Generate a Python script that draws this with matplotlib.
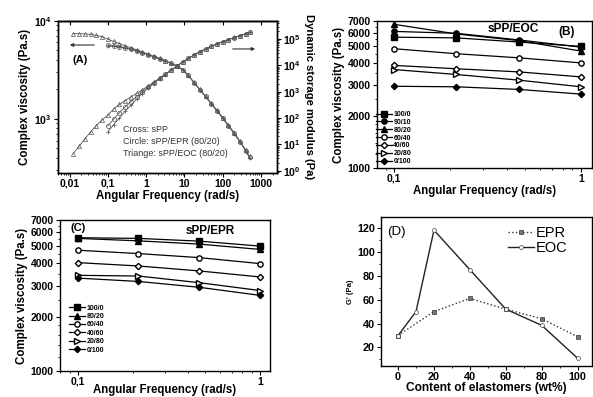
import math
import matplotlib
matplotlib.use('Agg')
import matplotlib.pyplot as plt
from matplotlib.ticker import FixedLocator, FuncFormatter, NullFormatter, LogLocator, MultipleLocator

plt.rcParams['font.family'] = ['Liberation Sans', 'DejaVu Sans']
plt.rcParams['font.weight'] = 'bold'
plt.rcParams['axes.labelweight'] = 'bold'
plt.rcParams['mathtext.fontset'] = 'custom'
plt.rcParams['mathtext.rm'] = 'Liberation Sans:bold'
plt.rcParams['mathtext.bf'] = 'Liberation Sans:bold'
plt.rcParams['axes.linewidth'] = 1.0
plt.rcParams['xtick.major.size'] = 3
plt.rcParams['ytick.major.size'] = 3
plt.rcParams['xtick.minor.size'] = 1.6
plt.rcParams['ytick.minor.size'] = 1.6

# ---- panel A: frequency sweeps (80/20 blends vs neat sPP)
freq_eoc = [0.0125, 0.0178, 0.025, 0.0355, 0.05, 0.0708, 0.1, 0.141, 0.2, 0.282,
            0.4, 0.562, 0.794, 1.12, 1.58, 2.24, 3.16, 4.47, 6.31, 8.91,
            12.6, 17.8, 25.1, 35.5, 50.1, 70.8, 100, 141, 200, 282, 398, 500]
freq_blend = freq_eoc[6:]

eta_eoc = [7400, 7380, 7330, 7250, 7100, 6850, 6500, 6150, 5850, 5550,
           5300, 5050, 4800, 4570, 4350, 4130, 3920, 3700, 3480, 3180,
           2780, 2350, 2000, 1700, 1440, 1220, 1030, 860, 720, 590, 480, 415]
eta_epr = [5650, 5560, 5450, 5310, 5150, 4960, 4740, 4520, 4310, 4100,
           3890, 3680, 3460, 3170, 2770, 2340, 1990, 1690, 1430, 1210,
           1020, 850, 710, 585, 475, 405]
eta_spp = [5550, 5480, 5390, 5260, 5110, 4930, 4720, 4500, 4290, 4080,
           3870, 3660, 3440, 3150, 2760, 2330, 1980, 1680, 1420, 1200,
           1010, 845, 705, 580, 470, 400]

gp_eoc = [4.5, 8.5, 16, 30, 52, 85, 130, 220, 330, 460,
          640, 870, 1180, 1650, 2300, 3300, 4700, 6700, 9600, 13500,
          18500, 25000, 33000, 42000, 53000, 66000, 80000, 96000, 115000, 135000,
          160000, 180000]
gp_epr = [50, 90, 160, 260, 420, 650, 1000, 1500, 2200, 3200,
          4600, 6600, 9500, 13400, 18400, 24900, 32900, 41900, 52900, 65900,
          79800, 95800, 114800, 134700, 159500, 179500]
gp_spp = [30, 55, 100, 180, 310, 520, 850, 1350, 2050, 3100,
          4500, 6500, 9400, 13300, 18300, 24800, 32800, 41800, 52800, 65800,
          79600, 95600, 114500, 134500, 159000, 179000]

# ---- panels B and C: complex viscosity at low frequency
freq_bc = [0.1, 0.215, 0.464, 1.0]
eoc_labels = ['100/0', '90/10', '80/20', '60/40', '40/60', '20/80', '0/100']
eoc_values = [
    [5650, 5600, 5300, 5000],
    [6100, 5950, 5450, 4950],
    [6700, 5900, 5400, 4700],
    [4850, 4540, 4300, 4020],
    [3890, 3720, 3570, 3340],
    [3680, 3450, 3200, 2930],
    [2950, 2930, 2830, 2660],
]
epr_labels = ['100/0', '80/20', '60/40', '40/60', '20/80', '0/100']
epr_values = [
    [5570, 5520, 5330, 5000],
    [5520, 5350, 5130, 4790],
    [4740, 4540, 4310, 3990],
    [4040, 3870, 3630, 3360],
    [3430, 3400, 3120, 2820],
    [3310, 3170, 2940, 2650],
]

# ---- panel D: G' vs elastomer content
content_epr = [0, 20, 40, 60, 80, 100]
gp_content_epr = [30, 50, 61, 52, 44, 29]
content_eoc = [0, 10, 20, 40, 60, 80, 100]
gp_content_eoc = [30, 50, 118, 85, 52, 38.5, 11]

marker_style = {
    '100/0': ('s', 'black'), '90/10': ('o', 'black'), '80/20': ('^', 'black'),
    '60/40': ('o', 'white'), '40/60': ('D', 'white'), '20/80': ('>', 'white'),
    '0/100': ('D', 'black'),
}

fig = plt.figure(figsize=(5.93, 3.97), dpi=100)

# ================= A =================
axA = fig.add_axes([0.0978, 0.565, 0.3693, 0.3829])
axA2 = axA.twinx()
gray = '#555555'
axA.plot(freq_eoc, eta_eoc, marker='^', ms=3, mfc='none', mec=gray, color=gray, lw=0.6, mew=0.5)
axA.plot(freq_blend, eta_epr, marker='o', ms=3, mfc='none', mec=gray, color=gray, lw=0.6, mew=0.5)
axA.plot(freq_blend, eta_spp, marker='+', ms=2.5, color=gray, lw=0.6, mew=0.5)
axA2.plot(freq_eoc, gp_eoc, marker='^', ms=3, mfc='none', mec=gray, color=gray, lw=0.6, mew=0.5)
axA2.plot(freq_blend, gp_epr, marker='o', ms=3, mfc='none', mec=gray, color=gray, lw=0.6, mew=0.5)
axA2.plot(freq_blend, gp_spp, marker='+', ms=2.5, color=gray, lw=0.6, mew=0.5)

axA.set_xscale('log')
axA.set_yscale('log')
axA2.set_yscale('log')
axA.set_xlim(0.005, 2600)
axA.set_ylim(283, 1e4)
axA2.set_ylim(0.84, 5e5)

xt = [0.01, 0.1, 1, 10, 100, 1000]
axA.xaxis.set_major_locator(FixedLocator(xt))
axA.set_xticklabels(['0,01', '0,1', '1', '10', '100', '1000'])
pow_fmt = FuncFormatter(lambda v, p: r'$\mathbf{10^{%d}}$' % round(math.log10(v)))
axA.yaxis.set_major_locator(FixedLocator([1e3, 1e4]))
axA.yaxis.set_major_formatter(pow_fmt)
axA.yaxis.set_minor_formatter(NullFormatter())
axA2.yaxis.set_major_locator(FixedLocator([1e0, 1e1, 1e2, 1e3, 1e4, 1e5]))
axA2.yaxis.set_major_formatter(pow_fmt)
axA2.yaxis.set_minor_locator(LogLocator(base=10, subs=(2, 3, 4, 5, 6, 7, 8, 9), numticks=20))
axA2.yaxis.set_minor_formatter(NullFormatter())
axA.tick_params(labelsize=7.5, pad=1.5)
axA2.tick_params(labelsize=7.5, pad=1.5)
topA = axA.secondary_xaxis('top')
topA.set_xscale('log')
topA.xaxis.set_major_locator(FixedLocator(xt))
topA.tick_params(direction='in', labeltop=False, which='both')
topA.xaxis.set_major_formatter(NullFormatter())
topA.xaxis.set_minor_formatter(NullFormatter())

axA.set_xlabel('Angular Frequency (rad/s)', fontsize=8.3, labelpad=1)
axA.set_ylabel('Complex viscosity (Pa.s)', fontsize=8.3, labelpad=2)
axA2.set_ylabel('Dynamic storage modulus (Pa)', fontsize=8.1, rotation=270, labelpad=9.5)

axA.text(0.10, 0.74, '(A)', transform=axA.transAxes, fontsize=8, ha='center', va='center')
axA.annotate('', xy=(0.041, 0.84), xytext=(0.178, 0.84), xycoords='axes fraction',
             arrowprops=dict(arrowstyle='-|>', color='#333333', lw=0.8, mutation_scale=5))
axA.annotate('', xy=(0.913, 0.814), xytext=(0.785, 0.814), xycoords='axes fraction',
             arrowprops=dict(arrowstyle='-|>', color='#333333', lw=0.8, mutation_scale=5))
for yy, txt in zip([0.287, 0.202, 0.123],
                   ['Cross: sPP', 'Circle: sPP/EPR (80/20)', 'Triange: sPP/EOC (80/20)']):
    axA.text(0.297, yy, txt, transform=axA.transAxes, fontsize=6.5, fontweight='normal',
             color='#333333', ha='left', va='center')


def style_bc(ax, xlim, xlabelpad):
    ax.set_xscale('log')
    ax.set_yscale('log')
    ax.set_xlim(*xlim)
    ax.set_ylim(1000, 7000)
    ax.xaxis.set_major_locator(FixedLocator([0.1, 1]))
    ax.set_xticklabels(['0,1', '1'])
    ax.xaxis.set_minor_formatter(NullFormatter())
    ax.yaxis.set_major_locator(FixedLocator([1000, 2000, 3000, 4000, 5000, 6000, 7000]))
    ax.set_yticklabels(['1000', '2000', '3000', '4000', '5000', '6000', '7000'])
    ax.yaxis.set_minor_locator(FixedLocator([1200, 1400, 1600, 1800, 2500, 3500, 4500, 5500, 6500]))
    ax.yaxis.set_minor_formatter(NullFormatter())
    ax.tick_params(labelsize=7.5, pad=1.5)
    ax.tick_params(axis='x', pad=1)
    ax.set_xlabel('Angular Frequency (rad/s)', fontsize=8.3, labelpad=xlabelpad)
    ax.set_ylabel('Complex viscosity (Pa.s)', fontsize=8.3, labelpad=2)


# ================= B =================
axB = fig.add_axes([0.6357, 0.5768, 0.3626, 0.3703])
for lab, vals in zip(eoc_labels, eoc_values):
    m, fc = marker_style[lab]
    axB.plot(freq_bc, vals, marker=m, mfc=fc, mec='black', color='black',
             ms=3.8 if m != 'D' else 3.2, lw=0.9, label=lab)
style_bc(axB, (0.081, 1.145), 1)
axB.text(0.633, 0.946, 'sPP/EOC', transform=axB.transAxes, fontsize=8.6, ha='center', va='center')
axB.text(0.884, 0.925, '(B)', transform=axB.transAxes, fontsize=8.6, ha='center', va='center')
axB.legend(loc='lower left', bbox_to_anchor=(-0.005, 0.02), fontsize=5, frameon=False,
           handlelength=2.3, handletextpad=0.2, labelspacing=0.12, borderpad=0, borderaxespad=0)

# ================= C =================
axC = fig.add_axes([0.1012, 0.0655, 0.3541, 0.3804])
for lab, vals in zip(epr_labels, epr_values):
    m, fc = marker_style[lab]
    axC.plot(freq_bc, vals, marker=m, mfc=fc, mec='black', color='black',
             ms=3.8 if m != 'D' else 3.2, lw=0.9, label=lab)
style_bc(axC, (0.0797, 1.135), -1.5)
axC.text(0.086, 0.947, '(C)', transform=axC.transAxes, fontsize=8, ha='center', va='center')
axC.text(0.714, 0.927, 'sPP/EPR', transform=axC.transAxes, fontsize=8.5, ha='center', va='center')
axC.legend(loc='lower left', bbox_to_anchor=(0.045, 0.115), fontsize=5, frameon=False,
           handlelength=2.3, handletextpad=0.2, labelspacing=0.2, borderpad=0, borderaxespad=0)

# ================= D =================
axD = fig.add_axes([0.6425, 0.078, 0.3558, 0.3753])
axD.plot(content_epr, gp_content_epr, ls=':', color='#333333', lw=1.0, marker='s', ms=2.5,
         mfc='#777777', mec='#333333', mew=0.5, label='EPR')
axD.plot(content_eoc, gp_content_eoc, ls='-', color='#222222', lw=1.0, marker='o', ms=2.8,
         mfc='white', mec='#444444', mew=0.5, label='EOC')
axD.set_xlim(-9.5, 108)
axD.set_ylim(4.5, 129)
axD.xaxis.set_major_locator(MultipleLocator(20))
axD.xaxis.set_minor_locator(MultipleLocator(10))
axD.yaxis.set_major_locator(FixedLocator([20, 40, 60, 80, 100, 120]))
axD.yaxis.set_minor_locator(FixedLocator([10, 30, 50, 70, 90, 110]))
axD.tick_params(labelsize=7.8, pad=1.5)
axD.tick_params(axis='x', pad=1)
axD.set_xlabel('Content of elastomers (wt%)', fontsize=8.6, labelpad=0)
axD.set_ylabel("G' (Pa)", fontsize=5.5, labelpad=2)
axD.text(0.071, 0.90, '(D)', transform=axD.transAxes, fontsize=9.5, fontweight='normal',
         ha='center', va='center')
axD.legend(loc='upper left', bbox_to_anchor=(0.6, 0.94), frameon=False, handlelength=1.8,
           handletextpad=0.1, labelspacing=0.1, borderpad=0, borderaxespad=0,
           prop={'size': 10.5, 'weight': 'normal'})

fig.savefig('out.png', dpi=100)
